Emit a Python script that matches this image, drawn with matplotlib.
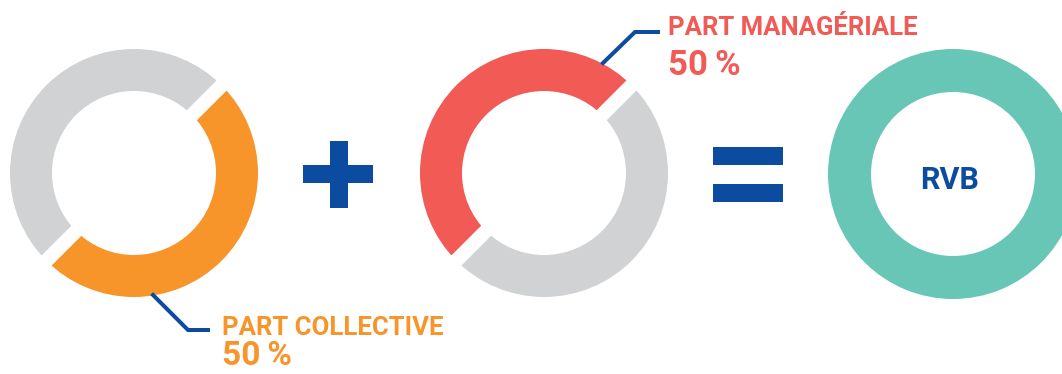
import matplotlib
matplotlib.use('Agg')
import matplotlib.pyplot as plt

# values
collective = [50, 50]      # part collective, reste
managerial = [50, 50]      # part managériale, reste
rvb = [100]
label_collective = "PART COLLECTIVE"
label_managerial = "PART MANAGÉRIALE"
pct_collective = "50\u2009%"
pct_managerial = "50\u2009%"
center_text = "RVB"

ORANGE = "#f7952a"
GREY = "#d1d2d4"
RED = "#f15a55"
TEAL = "#67c6b6"
BLUE = "#0c4ca0"

W, H = 1062, 374
fig = plt.figure(figsize=(W / 100, H / 100), dpi=100)
ax = fig.add_axes([0, 0, 1, 1])
plt.rcParams['font.family'] = ['Roboto', 'DejaVu Sans']


def py(y):
    # pixel row -> data y
    return H - y


gap = 14  # px white gap between slices
r_out, r_in = 124, 82

# left donut
ax.pie(collective, center=(134, py(173)), radius=r_out + gap / 2,
       colors=[ORANGE, GREY], startangle=45, counterclock=False,
       wedgeprops=dict(width=r_out - r_in + gap, edgecolor="white",
                       linewidth=gap * 0.72, joinstyle="miter"))
# middle donut
ax.pie(managerial, center=(544, py(173)), radius=r_out + gap / 2,
       colors=[RED, GREY], startangle=45, counterclock=True,
       wedgeprops=dict(width=r_out - r_in + gap, edgecolor="white",
                       linewidth=gap * 0.72, joinstyle="miter"))
# right donut
ax.pie(rvb, center=(953, py(174)), radius=125, colors=[TEAL],
       wedgeprops=dict(width=43, linewidth=0))
ax.text(950, py(180), center_text, color=BLUE, fontsize=22, fontweight="bold",
        ha="center", va="center")

# plus / equals
lw_sym = 18 * 0.72
ax.plot([303, 373], [py(174), py(174)], color=BLUE, lw=lw_sym, solid_capstyle="butt")
ax.plot([338.5, 338.5], [py(141), py(208)], color=BLUE, lw=lw_sym, solid_capstyle="butt")
ax.plot([713, 783], [py(156), py(156)], color=BLUE, lw=lw_sym, solid_capstyle="butt")
ax.plot([713, 783], [py(192.5), py(192.5)], color=BLUE, lw=lw_sym, solid_capstyle="butt")

# leader lines and labels
ax.plot([603, 635, 658], [py(63), py(32), py(32)], color=BLUE, lw=2.9,
        solid_joinstyle="miter")
ax.text(668, py(35), label_managerial, color=RED, fontsize=18.5,
        fontweight="bold", ha="left", va="baseline")
ax.text(668, py(75), pct_managerial, color=RED, fontsize=25,
        fontweight="bold", ha="left", va="baseline")

ax.plot([153, 188, 208], [py(295), py(330), py(330)], color=BLUE, lw=2.9,
        solid_joinstyle="miter")
ax.text(222, py(335), label_collective, color=ORANGE, fontsize=18.5,
        fontweight="bold", ha="left", va="baseline")
ax.text(222, py(365), pct_collective, color=ORANGE, fontsize=24,
        fontweight="bold", ha="left", va="baseline")

ax.set_xlim(0, W)
ax.set_ylim(0, H)
ax.set_aspect("equal")
ax.axis("off")

fig.savefig("out.png", dpi=100, facecolor="white")
